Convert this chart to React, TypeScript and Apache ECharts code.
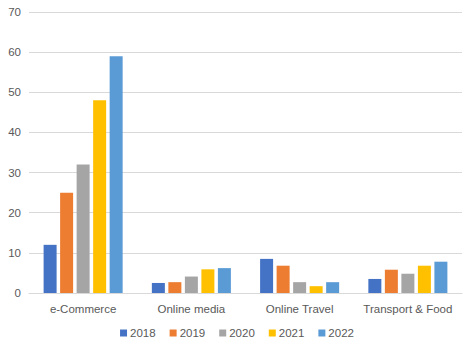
import React, { useEffect, useRef } from "react";
import * as echarts from "echarts";

const categories = ["e-Commerce", "Online media", "Online Travel", "Transport & Food"];
const years = ["2018", "2019", "2020", "2021", "2022"];
const v2018 = [12, 2.5, 8.5, 3.5];
const v2019 = [25, 2.7, 6.8, 5.8];
const v2020 = [32, 4.1, 2.7, 4.8];
const v2021 = [48, 5.9, 1.7, 6.8];
const v2022 = [59, 6.2, 2.7, 7.8];
const yTicks = [0, 10, 20, 30, 40, 50, 60, 70];
const colors = ["#4472C4", "#ED7D31", "#A5A5A5", "#FFC000", "#5B9BD5"];

export default function App() {
  const ref = useRef<HTMLDivElement>(null);
  useEffect(() => {
    if (!ref.current) return;
    const chart = echarts.init(ref.current, null, { renderer: "svg" });
    const all = [v2018, v2019, v2020, v2021, v2022];
    chart.setOption({
      animation: false,
      textStyle: { fontFamily: "Liberation Sans" },
      grid: { left: 29, right: 12, top: 12, bottom: 59 },
      legend: {
        bottom: 8,
        left: "center",
        itemWidth: 7,
        itemHeight: 7,
        itemGap: 14,
        icon: "rect",
        textStyle: { color: "#595959", fontSize: 11.5, padding: [0, 0, 0, -2] },
        data: years,
      },
      xAxis: {
        type: "category",
        data: categories,
        axisLine: { show: true, lineStyle: { color: "#d9d9d9" } },
        axisTick: { show: false },
        axisLabel: { color: "#595959", fontSize: 11.5, margin: 10, interval: 0 },
      },
      yAxis: {
        type: "value",
        min: yTicks[0],
        max: yTicks[yTicks.length - 1],
        interval: 10,
        axisLine: { show: false },
        axisTick: { show: false },
        axisLabel: { color: "#595959", fontSize: 11.5, margin: 8 },
        splitLine: { lineStyle: { color: "#d9d9d9" } },
      },
      series: years.map((y, i) => ({
        name: y,
        type: "bar",
        data: all[i],
        barWidth: 13,
        barGap: "27%",
        itemStyle: { color: colors[i] },
      })),
    });
    return () => chart.dispose();
  }, []);
  return <div ref={ref} style={{ width: 474, height: 352, margin: -8 }} />;
}
